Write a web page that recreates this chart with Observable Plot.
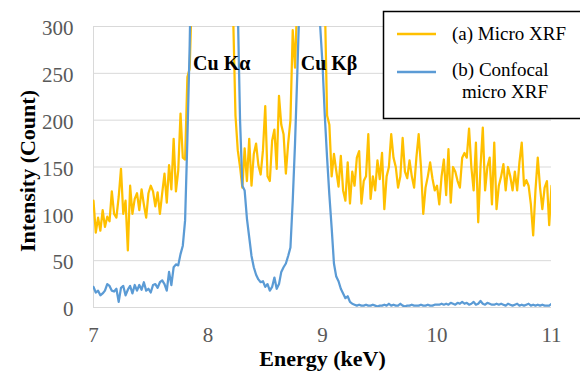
<!DOCTYPE html>
<html><head><meta charset="utf-8">
<script src="https://cdn.jsdelivr.net/npm/d3@7"></script>
<script src="https://cdn.jsdelivr.net/npm/@observablehq/plot@0.6"></script>
<style>
body{margin:0;background:#fff;}
#wrap{position:relative;width:580px;height:371px;overflow:hidden;}
#wrap svg text{font-family:'Liberation Serif','Times New Roman',serif;}
#legend{position:absolute;left:0;top:0;pointer-events:none;}
</style></head><body><div id="wrap"></div>
<script>
const seriesNames = ["(a) Micro XRF", "(b) Confocal micro XRF"];
const legendLines = [["(a) Micro XRF"], ["(b) Confocal", "micro XRF"]];
const seriesColors = ["#FFC000", "#5B9BD5"];
const energyStart = 7, energyStep = 0.02;

// (a) Micro XRF, 7.00 → 11.00 keV every 0.02 keV
const microXRF = [
114,80,96,82,104,86,97,92,124,100,96,118,148,100,114,61,130,100,116,122,104,126,110,96,122,130,124,108,123,100,122,143,112,152,126,180,124,146,207,160,158,246,255,
340,520,800,1200,1700,2300,2900,3400,3700,3800,3600,3200,2600,2000,1500,1000,700,450,310,
205,168,150,128,170,135,180,130,164,175,152,142,168,215,140,135,178,190,148,226,195,185,143,175,200,296,256,
330,480,700,950,1150,1250,1300,1250,1100,850,600,420,330,
205,195,140,164,146,129,162,125,114,155,111,145,130,160,167,111,135,140,185,116,140,125,157,137,165,105,140,150,185,160,150,128,140,181,145,138,157,140,128,160,185,150,100,128,140,155,138,125,
130,110,140,158,120,169,112,150,145,135,128,160,165,160,191,150,125,176,91,150,192,125,150,160,110,176,105,130,140,153,125,150,140,125,145,125,155,176,130,136,130,110,77,125,160,128,105,128,135,88,130
];

// (b) Confocal micro XRF, 7.00 → 11.00 keV every 0.02 keV
const confocalXRF = [
22,16,18,13,15,18,25,23,18,17,20,6,21,23,13,19,23,15,24,18,24,19,27,18,20,16,24,25,21,27,29,25,18,38,24,43,46,45,57,66,93,180,280,
420,800,1400,2200,3200,4300,5200,5900,6200,6300,6000,5300,4400,3400,2400,1600,1000,650,450,360,320,
200,130,125,95,75,55,43,35,30,27,28,22,25,18,22,32,20,25,38,43,47,55,64,114,175,250,
330,500,800,1100,1300,1400,1300,1000,600,300,260,
205,160,120,85,47,33,28,20,15,10,12,6,4,3,
2,3,2,2,3,2,2,3,2,1,2,2,3,2,4,2,3,2,2,4,2,1,2,2,3,2,2,2,3,2,2,3,2,2,3,
3,3,4,3,4,3,5,4,3,5,4,6,4,5,3,4,6,3,4,7,4,3,5,4,3,3,4,3,4,3,2,4,3,2,3,4,2,3,2,3,4,2,3,2,3,2,3,2,2,2,4
];

const yTicks = [0, 50, 100, 150, 200, 250, 300];
const xTicks = [7, 8, 9, 10, 11];
const peakLabels = ["Cu Kα", "Cu Kβ"];
const peakLabelEnergy = [7.87, 8.81];
const peakLabelCount = [260, 260];
const xTitle = "Energy (keV)";
const yTitle = "Intensity (Count)";

const energy = microXRF.map((_, i) => +(energyStart + i * energyStep).toFixed(2));
const rowsA = energy.map((e, i) => ({energy: e, count: microXRF[i]}));
const rowsB = energy.map((e, i) => ({energy: e, count: confocalXRF[i]}));
const peaks = peakLabels.map((t, i) => ({label: t, energy: peakLabelEnergy[i], count: peakLabelCount[i]}));

const serif = "'Liberation Serif', 'Times New Roman', serif";

const chart = Plot.plot({
  width: 580, height: 371,
  marginLeft: 93, marginRight: 29, marginTop: 26, marginBottom: 64,
  style: "font-family: 'Liberation Serif', 'Times New Roman', serif; font-size: 20px; color: #595959; background: white;",
  x: {domain: [7, 11]},
  y: {domain: [0, 300]},
  marks: [
    Plot.gridY(yTicks, {stroke: "#d9d9d9", strokeOpacity: 1, strokeWidth: 1}),
    Plot.ruleX([7], {stroke: "#d9d9d9", strokeWidth: 1}),
    Plot.axisY(yTicks, {tickSize: 0, tickPadding: 20, dy: 2, label: null, fontSize: 21, fontFamily: serif}),
    Plot.axisX(xTicks, {tickSize: 0, tickPadding: 20, label: null, fontSize: 21, fontFamily: serif, tickFormat: d => String(d)}),
    Plot.line(rowsA, {x: "energy", y: "count", stroke: seriesColors[0], strokeWidth: 2.25, clip: true}),
    Plot.line(rowsB, {x: "energy", y: "count", stroke: seriesColors[1], strokeWidth: 2.25, clip: true}),
    Plot.text(peaks, {x: "energy", y: "count", text: "label", textAnchor: "start", fontWeight: "bold", fontSize: 20, fontFamily: serif, fill: "black"}),
    Plot.text([yTitle], {text: d => d, frameAnchor: "left", textAnchor: "middle", lineAnchor: "middle", rotate: -90, dx: -66, dy: 4, fontWeight: "bold", fontSize: 22, fontFamily: serif, fill: "black"}),
    Plot.text([xTitle], {text: d => d, frameAnchor: "bottom", textAnchor: "middle", lineAnchor: "middle", dy: 51, fontWeight: "bold", fontSize: 22, fontFamily: serif, fill: "black"})
  ]
});

const wrap = document.getElementById("wrap");
wrap.appendChild(chart);

// Legend overlay (box sits on top of the plot area, as in the reference)
const leg = d3.select(wrap).append("svg").attr("id", "legend")
  .attr("width", 580).attr("height", 371)
  .style("font-family", serif);
leg.append("rect").attr("x", 383.5).attr("y", 11.5).attr("width", 220).attr("height", 107)
  .attr("fill", "white").attr("stroke", "black").attr("stroke-width", 1.5);
const swatchY = [34, 72];
const textX = [[452], [452, 462]];
const textY = [[40], [76, 98]];
legendLines.forEach((lines, i) => {
  leg.append("line").attr("x1", 397).attr("x2", 436).attr("y1", swatchY[i]).attr("y2", swatchY[i])
    .attr("stroke", seriesColors[i]).attr("stroke-width", 2.5);
  lines.forEach((t, j) => {
    leg.append("text").attr("x", textX[i][j]).attr("y", textY[i][j])
      .attr("font-size", 19).attr("fill", "black").text(t);
  });
});
</script></body></html>
